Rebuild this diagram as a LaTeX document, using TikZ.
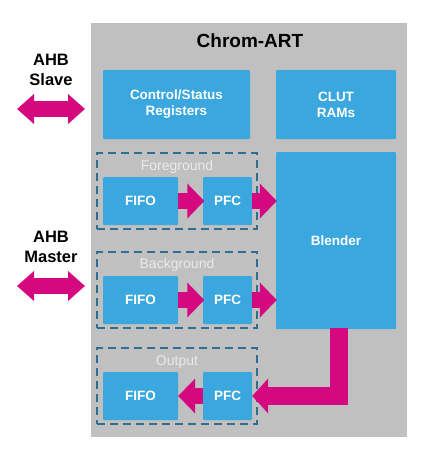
\documentclass[tikz,border=0pt]{standalone}
\usepackage{fontspec}
\setmainfont{Liberation Sans}
\usetikzlibrary{arrows.meta}
\definecolor{artgray}{HTML}{C0C0C0}
\definecolor{artblue}{HTML}{3AA8DF}
\definecolor{artmag}{HTML}{D5097F}
\definecolor{artdash}{HTML}{2E6E90}
\definecolor{artlabel}{HTML}{EAEAEA}
\begin{document}
\begin{tikzpicture}[x=1pt,y=-1pt,
  blk/.style={fill=artblue, draw=none, inner sep=0pt, rounded corners=1pt, text=white,
    font=\bfseries\fontsize{13.5}{16}\selectfont, align=center},
  grp/.style={draw=artdash, line width=2.6pt, dash pattern=on 8pt off 5pt, inner sep=0pt,
    minimum width=160pt, minimum height=76pt},
  grplabel/.style={text=artlabel, font=\fontsize{14}{16}\selectfont, inner sep=0pt},
  fifo/.style={blk, minimum width=75pt, minimum height=48pt},
  pfc/.style={blk, minimum width=49pt, minimum height=48pt},
  fat/.style={draw=artmag, line width=16pt, -{Triangle[length=17pt,width=34pt]}},
  fatbend/.style={draw=artmag, line width=18pt, line join=miter, -{Triangle[length=16pt,width=34pt]}},
  dbl/.style={draw=artmag, line width=16pt, {Triangle[length=17pt,width=29pt]}-{Triangle[length=17pt,width=29pt]}},
  side/.style={font=\bfseries\fontsize{16.5}{20}\selectfont, align=center, text=black, inner sep=0pt},
]
\useasboundingbox (0,0) rectangle (433,456);
\fill[white] (0,0) rectangle (433,456);
% main gray block
\node[fill=artgray, inner sep=0pt, minimum width=316pt, minimum height=414pt] (chrom) at (249,230) {};
\node[font=\bfseries\fontsize{19}{22}\selectfont, inner sep=0pt] (title) at (250,41) {Chrom-ART};
% top blocks
\node[blk, minimum width=147pt, minimum height=69pt] (ctrl) at (176.5,104.5) {Control/Status\\Registers};
\node[blk, minimum width=120pt, minimum height=69pt] (clut) at (336,104.5) {CLUT\\RAMs};
\node[blk, minimum width=120pt, minimum height=177pt] (blender) at (336,240.5) {Blender};
% groups
\node[grp] (fg) at (177,191) {};
\node[grp] (bg) at (177,290) {};
\node[grp] (out) at (177,386) {};
\node[grplabel] (fglab) at (177,167) {Foreground};
\node[grplabel] (bglab) at (177,265) {Background};
\node[grplabel] (outlab) at (177,362) {Output};
% inner blocks
\node[fifo] (ffifo) at (140.5,201) {FIFO};
\node[pfc] (fpfc) at (227.5,201) {PFC};
\node[fifo] (bfifo) at (140.5,300) {FIFO};
\node[pfc] (bpfc) at (227.5,300) {PFC};
\node[fifo] (ofifo) at (140.5,396) {FIFO};
\node[pfc] (opfc) at (227.5,396) {PFC};
% side labels
\node[side] (slave) at (51,70) {AHB\\Slave};
\node[side] (master) at (51,247) {AHB\\Master};
\coordinate (sl) at (17,109);
\coordinate (sr) at (85,109);
\coordinate (ml) at (17,286);
\coordinate (mr) at (85,286);
\coordinate (bout) at (339,328);
% arrows
\draw[dbl] (sl) -- (sr);
\draw[dbl] (ml) -- (mr);
\draw[fat] (ffifo.east) -- ([xshift=1.5pt]fpfc.west);
\draw[fat] (fpfc.east) -- ([xshift=1pt]blender.west |- fpfc.east);
\draw[fat] (bfifo.east) -- ([xshift=1.5pt]bpfc.west);
\draw[fat] (bpfc.east) -- ([xshift=1pt]blender.west |- bpfc.east);
\draw[fat] (opfc.west) -- (ofifo.east);
\draw[fatbend] (bout) |- (opfc.east);
\end{tikzpicture}
\end{document}
